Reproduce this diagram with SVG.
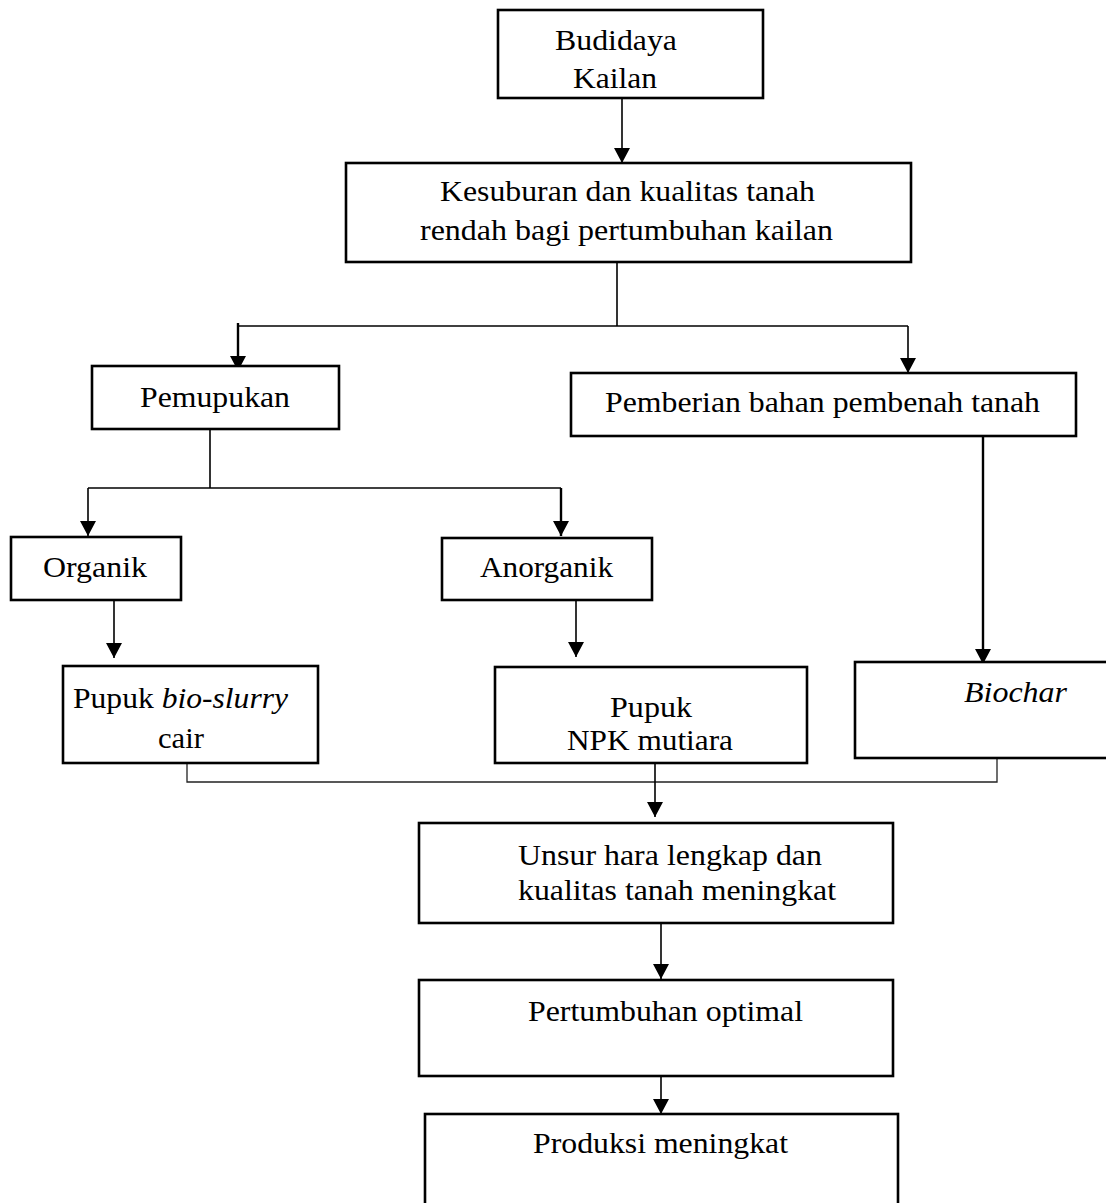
<svg xmlns="http://www.w3.org/2000/svg" width="1106" height="1203" viewBox="0 0 1106 1203" font-family="Liberation Serif, Tinos, Times New Roman, serif">
<style>
  .box { fill: #fff; stroke: #000; stroke-width: 2.6; }
  .lbl { font-size: 30px; fill: #000; }
  .it { font-style: italic; }
  .ln { fill: none; stroke: #000; stroke-width: 1.6; }
  .thin { fill: none; stroke: #222; stroke-width: 1.3; }
  .thick { fill: none; stroke: #000; stroke-width: 2.4; }
</style>
<defs>
  <marker id="arr" viewBox="0 0 15 16" refX="15" refY="8" markerWidth="15" markerHeight="16" markerUnits="userSpaceOnUse" orient="auto">
    <path d="M0,0 L15,8 L0,16 z" fill="#000"/>
  </marker>
</defs>
<rect width="1106" height="1203" fill="#fff"/>

<g id="connectors">
  <line class="ln" x1="622" y1="98" x2="622" y2="163" marker-end="url(#arr)"/>
  <line class="ln" x1="617" y1="262" x2="617" y2="326"/>
  <line class="ln" x1="238" y1="326" x2="908" y2="326"/>
  <line class="thick" x1="238" y1="323" x2="238" y2="371" marker-end="url(#arr)"/>
  <line class="ln" x1="908" y1="326" x2="908" y2="373" marker-end="url(#arr)"/>
  <line class="ln" x1="210" y1="429" x2="210" y2="488"/>
  <line class="ln" x1="88" y1="488" x2="561" y2="488"/>
  <line class="ln" x1="88" y1="488" x2="88" y2="536" marker-end="url(#arr)"/>
  <line class="thick" x1="561" y1="488" x2="561" y2="536" marker-end="url(#arr)"/>
  <line class="ln" x1="114" y1="597" x2="114" y2="658" marker-end="url(#arr)"/>
  <line class="ln" x1="576" y1="600" x2="576" y2="657" marker-end="url(#arr)"/>
  <line class="thick" x1="983" y1="436" x2="983" y2="664" marker-end="url(#arr)"/>
  <polyline class="thin" points="187,763 187,782 997,782 997,758"/>
  <line class="ln" x1="655" y1="763" x2="655" y2="817" marker-end="url(#arr)"/>
  <line class="ln" x1="661" y1="923" x2="661" y2="979" marker-end="url(#arr)"/>
  <line class="ln" x1="661" y1="1076" x2="661" y2="1114" marker-end="url(#arr)"/>
</g>

<g id="budidaya">
  <rect class="box" x="498" y="10" width="265" height="88"/>
  <text class="lbl" x="616" y="50" text-anchor="middle" textLength="122" lengthAdjust="spacingAndGlyphs">Budidaya</text>
  <text class="lbl" x="615" y="88" text-anchor="middle" textLength="84" lengthAdjust="spacingAndGlyphs">Kailan</text>
</g>

<g id="kesuburan">
  <rect class="box" x="346" y="163" width="565" height="99"/>
  <text class="lbl" x="440" y="201" textLength="375" lengthAdjust="spacingAndGlyphs">Kesuburan dan kualitas tanah</text>
  <text class="lbl" x="420" y="240" textLength="413" lengthAdjust="spacingAndGlyphs">rendah bagi pertumbuhan kailan</text>
</g>

<g id="pemupukan">
  <rect class="box" x="92" y="366" width="247" height="63"/>
  <text class="lbl" x="140" y="407" textLength="150" lengthAdjust="spacingAndGlyphs">Pemupukan</text>
</g>

<g id="pemberian">
  <rect class="box" x="571" y="373" width="505" height="63"/>
  <text class="lbl" x="605" y="412" textLength="435" lengthAdjust="spacingAndGlyphs">Pemberian bahan pembenah tanah</text>
</g>

<g id="organik">
  <rect class="box" x="11" y="537" width="170" height="63"/>
  <text class="lbl" x="43" y="577" textLength="104" lengthAdjust="spacingAndGlyphs">Organik</text>
</g>

<g id="anorganik">
  <rect class="box" x="442" y="538" width="210" height="62"/>
  <text class="lbl" x="480" y="577" textLength="133" lengthAdjust="spacingAndGlyphs">Anorganik</text>
</g>

<g id="bioslurry">
  <rect class="box" x="63" y="666" width="255" height="97"/>
  <text class="lbl" x="73" y="708" textLength="215" lengthAdjust="spacingAndGlyphs">Pupuk <tspan class="it">bio-slurry</tspan></text>
  <text class="lbl" x="158" y="748" textLength="46" lengthAdjust="spacingAndGlyphs">cair</text>
</g>

<g id="npk">
  <rect class="box" x="495" y="667" width="312" height="96"/>
  <text class="lbl" x="610" y="717" textLength="82" lengthAdjust="spacingAndGlyphs">Pupuk</text>
  <text class="lbl" x="567" y="750" textLength="166" lengthAdjust="spacingAndGlyphs">NPK mutiara</text>
</g>

<g id="biochar">
  <rect class="box" x="855" y="662" width="260" height="96"/>
  <text class="lbl it" x="964" y="702" textLength="103" lengthAdjust="spacingAndGlyphs">Biochar</text>
</g>

<g id="unsur">
  <rect class="box" x="419" y="823" width="474" height="100"/>
  <text class="lbl" x="518" y="865" textLength="304" lengthAdjust="spacingAndGlyphs">Unsur hara lengkap dan</text>
  <text class="lbl" x="518" y="900" textLength="318" lengthAdjust="spacingAndGlyphs">kualitas tanah meningkat</text>
</g>

<g id="pertumbuhan">
  <rect class="box" x="419" y="980" width="474" height="96"/>
  <text class="lbl" x="528" y="1021" textLength="275" lengthAdjust="spacingAndGlyphs">Pertumbuhan optimal</text>
</g>

<g id="produksi">
  <rect class="box" x="425" y="1114" width="473" height="100"/>
  <text class="lbl" x="533" y="1153" textLength="255" lengthAdjust="spacingAndGlyphs">Produksi meningkat</text>
</g>
</svg>
